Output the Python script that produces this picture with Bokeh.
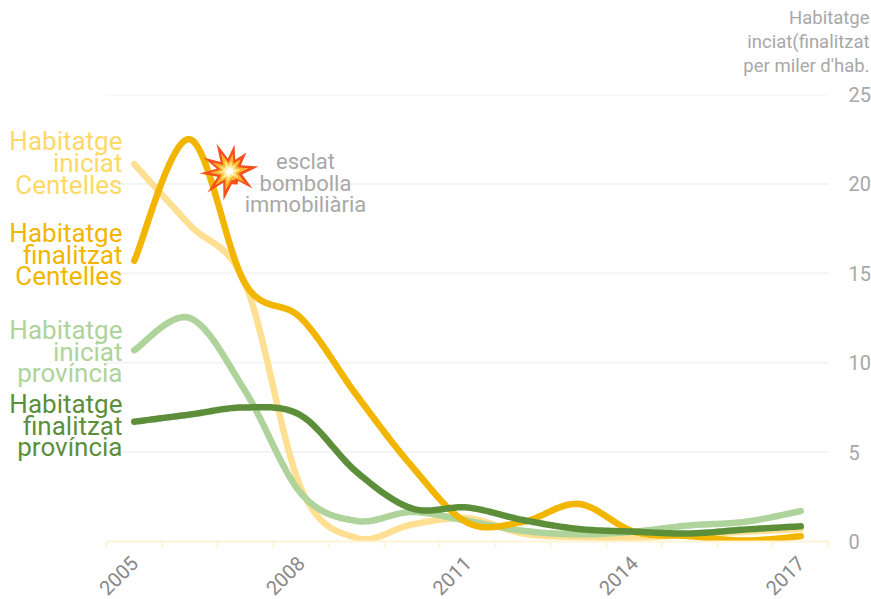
import numpy as np
from bokeh.plotting import figure
from bokeh.models import Label, FixedTicker, Range1d, LinearAxis, Title
from bokeh.embed import file_html
from bokeh.resources import INLINE

years = list(range(2005, 2018))
iniciat_centelles = [21.1, 17.7, 14.4, 3.0, 0.2, 0.95, 1.3, 0.45, 0.25, 0.2, 0.4, 0.55, 0.7]
finalitzat_centelles = [15.7, 22.5, 14.4, 12.5, 8.2, 4.2, 1.05, 1.1, 2.1, 0.55, 0.3, 0.05, 0.3]
iniciat_provincia = [10.7, 12.5, 8.4, 2.7, 1.15, 1.65, 1.15, 0.6, 0.4, 0.55, 0.9, 1.1, 1.7]
finalitzat_provincia = [6.7, 7.1, 7.5, 7.05, 3.9, 1.85, 1.9, 1.2, 0.7, 0.55, 0.45, 0.67, 0.85]
y_ticks = [0, 5, 10, 15, 20, 25]
x_labelled = [2005, 2008, 2011, 2014, 2017]
unit_title = ["Habitatge", "inciat(finalitzat", "per miler d'hab."]
note = ["esclat", "bombolla", "immobiliària"]
series_labels = [
    (["Habitatge", "iniciat", "Centelles"], "#ffd966", [140, 162, 184]),
    (["Habitatge", "finalitzat", "Centelles"], "#f2b600", [232, 254, 275]),
    (["Habitatge", "iniciat", "província"], "#aed39b", [329, 351, 372]),
    (["Habitatge", "finalitzat", "província"], "#5d8f3b", [403, 425, 446]),
]
FONT = "Roboto"
PLOT_L, PLOT_R, T, FH = 106, 828, 94, 447
W, H = 871, 599
sx = (PLOT_R - PLOT_L) / 13
sy = FH / 25
x0 = 2004.5 - PLOT_L / sx

p = figure(width=W, height=H, frame_width=PLOT_R, frame_height=FH, output_backend="svg", toolbar_location=None,
           x_range=Range1d(x0, 2017.5), y_range=Range1d(0, 25),
           min_border_left=0, min_border_right=W - PLOT_R, min_border_top=T,
           min_border_bottom=H - T - FH, outline_line_color=None)

def xpx(px):
    return x0 + px / sx
def ypx(px):
    return (T + FH - px) / sy

def smooth(xs, ys, n=24, tension=0.5):
    xs, ys = np.array(xs, float), np.array(ys, float)
    px = np.r_[xs[0], xs, xs[-1]]
    py = np.r_[ys[0], ys, ys[-1]]
    ox, oy = [], []
    for i in range(1, len(px) - 2):
        for t in np.linspace(0, 1, n, endpoint=False):
            h1 = 2*t**3 - 3*t**2 + 1
            h2 = t**3 - 2*t**2 + t
            h3 = -2*t**3 + 3*t**2
            h4 = t**3 - t**2
            ox.append(h1*px[i] + h2*tension*(px[i+1]-px[i-1]) + h3*px[i+1] + h4*tension*(px[i+2]-px[i]))
            oy.append(h1*py[i] + h2*tension*(py[i+1]-py[i-1]) + h3*py[i+1] + h4*tension*(py[i+2]-py[i]))
    ox.append(px[-2]); oy.append(py[-2])
    return ox, oy

p.grid.grid_line_color = None
p.segment(x0=[2004.5]*len(y_ticks[1:]), x1=[2017.5]*len(y_ticks[1:]), y0=y_ticks[1:], y1=y_ticks[1:],
          line_color="#f4f4f4", line_width=2)

for vals, col in [(iniciat_centelles, "#ffdf91"), (iniciat_provincia, "#aed39b"),
                  (finalitzat_centelles, "#f2b600"), (finalitzat_provincia, "#5d8f3b")]:
    xs, ys = smooth(years, vals)
    p.line(xs, ys, line_color=col, line_width=6.5, line_cap="round", line_join="round")

# explosion emoji drawn as nested stars
cx, cy = 229, 171
tips = [(-13, -28), (5, -27), (17, -19), (29, -5), (23, 17), (8, 13), (-6, 29), (-22, 21), (-30, 2), (-26, -14)]
def star(scale, inner_r):
    xs, ys = [], []
    ang = [np.arctan2(d[1], d[0]) for d in tips]
    for i, (dx, dy) in enumerate(tips):
        xs.append(xpx(cx + dx*scale)); ys.append(ypx(cy + dy*scale))
        a, b = ang[i], ang[(i+1) % len(tips)]
        d = (b - a + np.pi) % (2*np.pi) - np.pi
        m = a + d/2
        xs.append(xpx(cx + inner_r*np.cos(m))); ys.append(ypx(cy + inner_r*np.sin(m)))
    return xs, ys
for scale, r, c in [(1.0, 13, "#f4511e"), (0.65, 9, "#ffb52e"), (0.38, 6, "#ffe88a"), (0.2, 3, "#ffffff")]:
    xs, ys = star(scale, r)
    p.patch(xs, ys, fill_color=c, line_color=None)

p.yaxis.visible = False
ya = LinearAxis(ticker=FixedTicker(ticks=y_ticks), axis_line_color=None,
                major_tick_line_color=None, minor_tick_line_color=None, major_tick_out=0, major_tick_in=0,
                major_label_text_color="#a8a8a8", major_label_text_font=FONT,
                major_label_text_font_size="20px", major_label_standoff=20)
p.add_layout(ya, "right")

ax = p.xaxis[0]
ax.bounds = (2004.5, 2017.5)
ax.ticker = FixedTicker(ticks=x_labelled, minor_ticks=[y - 0.5 for y in years] + [2017.5])
ax.major_label_overrides = {y: str(y) for y in x_labelled}
ax.major_label_orientation = np.pi / 4
ax.major_tick_out = 0
ax.major_tick_in = 0
ax.minor_tick_out = 6
ax.minor_tick_in = 0
ax.axis_line_color = "#fff3d6"
ax.axis_line_width = 2
ax.minor_tick_line_color = "#fff3d6"
ax.minor_tick_line_width = 2
ax.major_label_text_color = "#888888"
ax.major_label_text_font = FONT
ax.major_label_text_font_size = "20px"
ax.major_label_standoff = 12

def add_text(t, xp, yp, align, col, size):
    p.add_layout(Label(x=xpx(xp), y=ypx(yp), text=t, text_align=align, text_baseline="middle",
                       text_color=col, text_font=FONT, text_font_size=size))

for lines, col, ypos in series_labels:
    for t, yy in zip(lines, ypos):
        add_text(t, 122, yy, "right", col, "26px")
for t, yy in zip(note, [160.5, 182.5, 203.5]):
    add_text(t, 305, yy, "center", "#a8a8a8", "22px")

# unit title stacked above the frame; a blank first line lifts it clear of the 25 tick
p.add_layout(Title(text=" ", standoff=15, text_font_size="1px"), "above")
for t in reversed(unit_title):
    p.add_layout(Title(text=t, align="right", offset=-41, standoff=0,
                       text_color="#a8a8a8", text_font=FONT, text_font_size="18.5px",
                       text_font_style="normal"), "above")

open("out.html", "w").write(file_html(p, INLINE))
